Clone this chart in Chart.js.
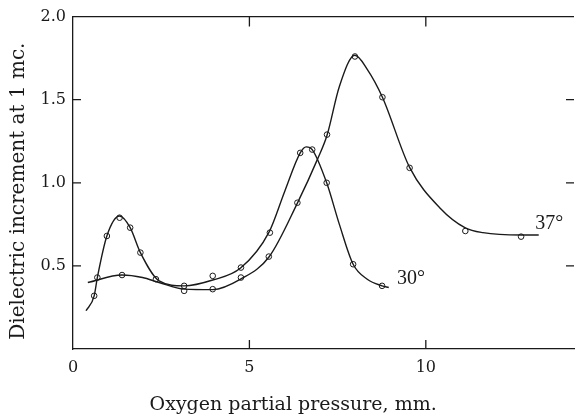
<!DOCTYPE html>
<html>
<head>
<meta charset="utf-8">
<script src="https://cdn.jsdelivr.net/npm/chart.js@4.4.1/dist/chart.umd.min.js"></script>
<style>
  html, body { margin: 0; padding: 0; background: #fff; }
  #chart { display: block; }
</style>
</head>
<body>
<canvas id="chart" width="579" height="416"></canvas>
<script>
// measured points (open circles)
const pts30X = [0.60, 0.69, 0.96, 1.32, 1.62, 1.91, 2.35, 3.15, 3.96, 4.76, 5.58, 6.44, 6.78, 7.19, 7.94, 8.76];
const pts30Y = [0.32, 0.43, 0.68, 0.79, 0.73, 0.58, 0.42, 0.38, 0.44, 0.49, 0.70, 1.18, 1.20, 1.00, 0.51, 0.38];
const pts37X = [1.39, 3.15, 3.96, 4.76, 5.55, 6.36, 7.20, 7.99, 8.77, 9.54, 11.12, 12.70];
const pts37Y = [0.445, 0.35, 0.36, 0.43, 0.556, 0.88, 1.29, 1.76, 1.515, 1.09, 0.71, 0.676];

// hand-drawn curves
const curve30X = [0.37, 0.60, 0.69, 0.96, 1.32, 1.62, 1.91, 2.44, 3.15, 3.96, 4.75, 5.56, 6.0, 6.44, 6.61, 6.78, 7.19, 7.55, 7.94, 8.34, 8.76, 8.95];
const curve30Y = [0.23, 0.32, 0.43, 0.68, 0.80, 0.73, 0.58, 0.41, 0.38, 0.415, 0.487, 0.705, 0.948, 1.18, 1.216, 1.20, 1.0, 0.75, 0.51, 0.42, 0.38, 0.37];
const curve37X = [0.42, 1.39, 1.97, 2.44, 3.15, 3.96, 4.75, 5.56, 6.36, 6.94, 7.2, 7.55, 7.99, 8.34, 8.77, 9.54, 10.4, 11.12, 11.62, 12.7, 13.2];
const curve37Y = [0.40, 0.445, 0.43, 0.40, 0.36, 0.357, 0.42, 0.555, 0.878, 1.147, 1.286, 1.58, 1.767, 1.683, 1.515, 1.093, 0.849, 0.729, 0.70, 0.686, 0.686];

const curveNames = ['30°', '37°'];
const curveNameX = [9.18, 13.1];
const curveNameY = [0.423, 0.751];

const xTicks = [0, 5, 10];
const yTicks = [0.5, 1.0, 1.5, 2.0];

const xTitle = 'Oxygen partial pressure, mm.';
const yTitle = 'Dielectric increment at 1 mc.';

const ink = '#1a1a1a';
const serif = "'DejaVu Serif', 'Liberation Serif', serif";

const toXY = (xs, ys) => xs.map((x, i) => ({ x: x, y: ys[i] }));

function curve(xs, ys) {
    return {
        data: toXY(xs, ys),
        showLine: true,
        borderColor: ink,
        borderWidth: 1.4,
        pointRadius: 0,
        cubicInterpolationMode: 'monotone'
    };
}

function points(xs, ys) {
    return {
        data: toXY(xs, ys),
        showLine: false,
        pointRadius: 2.8,
        pointBorderWidth: 1,
        pointBorderColor: ink,
        pointBackgroundColor: '#fff'
    };
}

// inward ticks, top frame line, axis titles and curve names
const framePlugin = {
    id: 'framePlugin',
    afterDatasetsDraw(chart) {
        const { ctx, chartArea: a, scales: { x, y } } = chart;
        ctx.save();
        ctx.strokeStyle = ink;
        ctx.lineWidth = 1.3;
        ctx.beginPath();
        ctx.moveTo(a.left, a.top);
        ctx.lineTo(a.right, a.top);
        xTicks.forEach(v => {
            if (v <= 0) return;
            const px = x.getPixelForValue(v);
            ctx.moveTo(px, a.bottom);
            ctx.lineTo(px, a.bottom - 9);
            ctx.moveTo(px, a.top);
            ctx.lineTo(px, a.top + 10);
        });
        yTicks.forEach(v => {
            if (v >= 2) return;
            const py = y.getPixelForValue(v);
            ctx.moveTo(a.left, py);
            ctx.lineTo(a.left + 8, py);
            ctx.moveTo(a.right, py);
            ctx.lineTo(a.right - 8, py);
        });
        ctx.stroke();

        ctx.fillStyle = ink;
        ctx.textBaseline = 'middle';

        // axis titles
        ctx.textAlign = 'center';
        ctx.font = '19px ' + serif;
        ctx.fillText(xTitle, x.getPixelForValue(6.24), a.bottom + 56);
        ctx.save();
        ctx.translate(a.left - 54, y.getPixelForValue(0.95));
        ctx.rotate(-Math.PI / 2);
        ctx.font = '20px ' + serif;
        ctx.fillText(yTitle, 0, 0);
        ctx.restore();

        ctx.textAlign = 'left';
        ctx.font = "20px 'Liberation Serif', serif";
        curveNames.forEach((t, i) => {
            ctx.fillText(t, x.getPixelForValue(curveNameX[i]), y.getPixelForValue(curveNameY[i]));
        });
        ctx.restore();
    }
};

new Chart(document.getElementById('chart'), {
    type: 'scatter',
    data: {
        datasets: [
            curve(curve30X, curve30Y),
            curve(curve37X, curve37Y),
            points(pts30X, pts30Y),
            points(pts37X, pts37Y)
        ]
    },
    options: {
        responsive: false,
        animation: false,
        layout: { padding: { top: 13, right: 1, left: 0, bottom: 0 } },
        plugins: {
            legend: { display: false },
            tooltip: { enabled: false }
        },
        scales: {
            x: {
                type: 'linear',
                min: 0,
                max: 14.2,
                afterFit: s => { s.height = 67; },
                afterBuildTicks: s => { s.ticks = xTicks.map(v => ({ value: v })); },
                grid: { drawOnChartArea: false, drawTicks: false },
                border: { display: true, color: ink, width: 1.3 },
                ticks: {
                    color: ink,
                    padding: 9,
                    font: { family: serif, size: 16 },
                    callback: v => String(v)
                }
            },
            y: {
                type: 'linear',
                min: 0,
                max: 2.0,
                afterFit: s => { s.width = 73; },
                afterBuildTicks: s => { s.ticks = yTicks.map(v => ({ value: v })); },
                grid: { drawOnChartArea: false, drawTicks: false },
                border: { display: true, color: ink, width: 1.3 },
                ticks: {
                    color: ink,
                    padding: 7,
                    font: { family: serif, size: 16 },
                    callback: v => v.toFixed(1)
                }
            }
        }
    },
    plugins: [framePlugin]
});
</script>
</body>
</html>
